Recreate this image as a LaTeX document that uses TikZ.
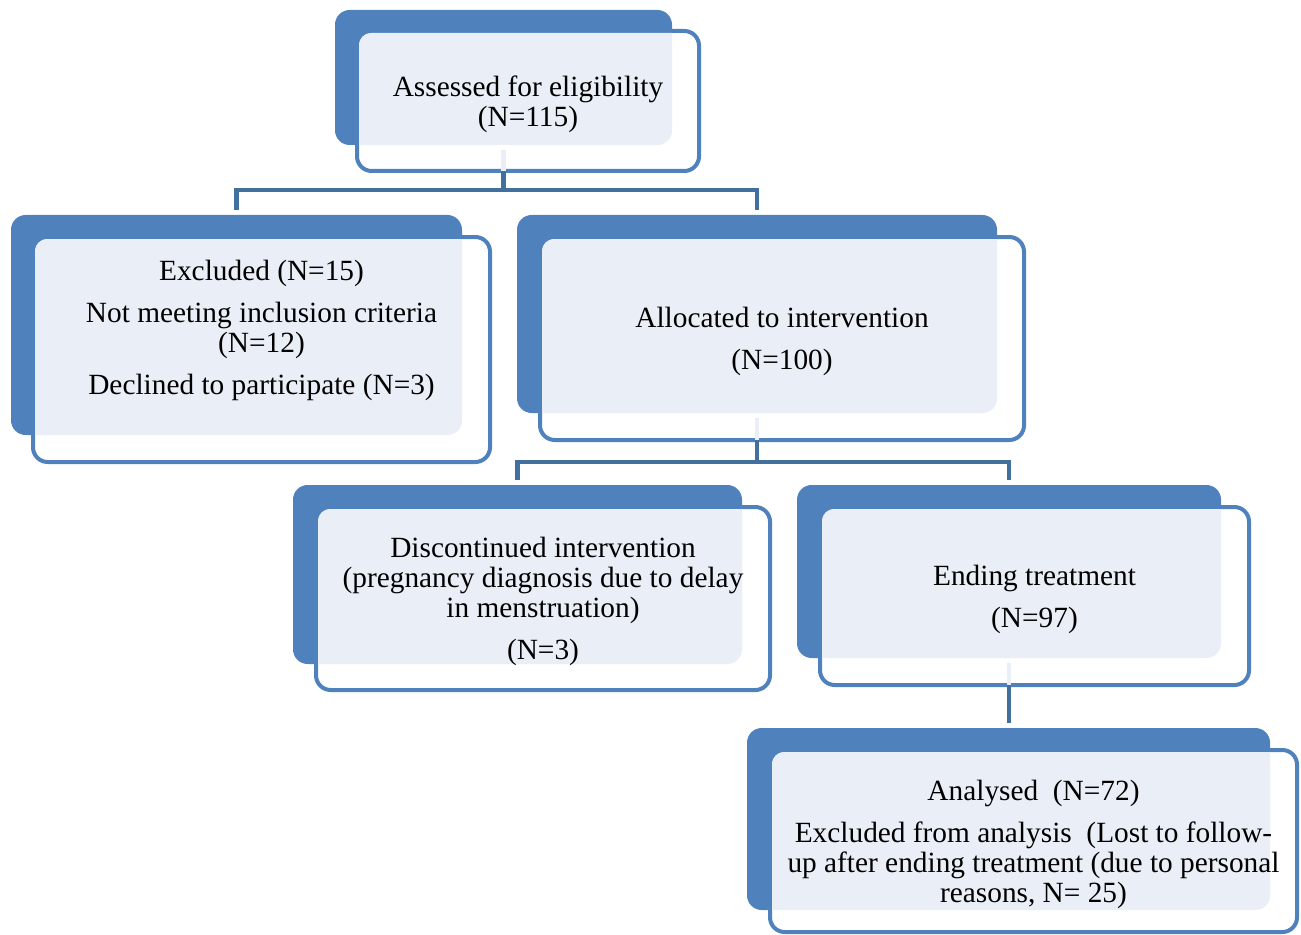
\documentclass[tikz,border=0pt]{standalone}
\usepackage{fontspec}
\setmainfont{Liberation Serif}
\usepackage{xcolor}
\usepackage{tikz}
\usetikzlibrary{positioning}
\usetikzlibrary{calc}

\definecolor{boxblue}{HTML}{4F81BD}
\definecolor{boxlight}{HTML}{EAEFF7}
\definecolor{linkblue}{HTML}{41709F}

\begin{document}
\begin{tikzpicture}[
    x = 0.75pt,
    y = -0.75pt,
    font = \fontsize{22}{22.5}\selectfont]
    \tikzstyle{back}=[rectangle,fill=boxblue,rounded corners=11pt,inner sep=0pt,outer sep=0pt]
    \tikzstyle{front}=[rectangle,draw=boxblue,line width=3pt,fill=white,rounded corners=11pt,inner sep=0pt,outer sep=0pt]
    \tikzstyle{txt}=[align=center,inner sep=0pt,text=black,yshift=-2.5pt]
    \tikzstyle{link}=[linkblue,line width=3.5pt]
    \tikzstyle{stub}=[boxlight,line width=3.5pt,shorten <=4pt]
    \useasboundingbox (0,0) rectangle (1301,934);
    % back plates
    \node[back,minimum width=252.75pt,minimum height=101.25pt] (b1) at (503.5,77.5) {};
    \node[back,minimum width=338.25pt,minimum height=165pt] (b2) at (236.5,325) {};
    \node[back,minimum width=360pt,minimum height=148.5pt] (b3) at (757,314) {};
    \node[back,minimum width=336.75pt,minimum height=134.25pt] (b4) at (517.5,574.5) {};
    \node[back,minimum width=318pt,minimum height=129.75pt] (b5) at (1009,571.5) {};
    \node[back,minimum width=392.25pt,minimum height=136.5pt] (b6) at (1008.5,819) {};
    % front frames
    \node[front,minimum width=256.5pt,minimum height=105pt] (f1) at (528,101) {};
    \node[front,minimum width=342.75pt,minimum height=168.75pt] (f2) at (261.5,349.5) {};
    \node[front,minimum width=363pt,minimum height=152.25pt] (f3) at (782,338.5) {};
    \node[front,minimum width=340.5pt,minimum height=137.25pt] (f4) at (543,598.5) {};
    \node[front,minimum width=321.75pt,minimum height=133.5pt] (f5) at (1034.5,596) {};
    \node[front,minimum width=395.25pt,minimum height=136.5pt] (f6) at (1033.5,841) {};
    \foreach \i in {1,...,6} {
      \begin{scope}
        \clip[rounded corners=11pt] (b\i.south west) rectangle (b\i.north east);
        \fill[boxlight,rounded corners=9pt]
          ([shift={(2,-2)}]f\i.south west) rectangle ([shift={(-2,2)}]f\i.north east);
      \end{scope}
    }
    % connectors
    \draw[stub] (b1.south) -- (b1.south |- f1.south);
    \draw[link] (b1.south |- f1.south) -- ++(0,19) coordinate (j1)
      -| ([yshift=4pt]b2.north);
    \draw[link] (j1) -| ([yshift=4pt]b3.north);
    \draw[stub] (b3.south) -- (b3.south |- f3.south);
    \draw[link] (b3.south |- f3.south) -- ++(0,22) coordinate (j3)
      -| ([yshift=4pt]b4.north);
    \draw[link] (j3) -| ([yshift=4pt]b5.north);
    \draw[stub] (b5.south) -- (b5.south |- f5.south);
    \draw[link] (b5.south |- f5.south) -- ([yshift=4pt]b5.south |- b6.north);
    % texts
    \node[txt] (t1) at (f1) {Assessed for eligibility\\(N=115)};
    \node[txt] (t2) at ([yshift=16.5pt]f2) {Excluded (N=15)\\[9pt]Not meeting inclusion criteria\\(N=12)\\[9pt]Declined to participate (N=3)};
    \node[txt] (t3) at (f3) {Allocated to intervention\\[9pt](N=100)};
    \node[txt] (t4) at (f4) {Discontinued intervention\\(pregnancy diagnosis due to delay\\in menstruation)\\[9pt](N=3)};
    \node[txt] (t5) at (f5) {Ending treatment\\[9pt](N=97)};
    \node[txt] (t6) at (f6) {Analysed\ \ (N=72)\\[9pt]Excluded from analysis\ \ (Lost to follow-\\up after ending treatment (due to personal\\reasons, N= 25)};
\end{tikzpicture}
\end{document}
